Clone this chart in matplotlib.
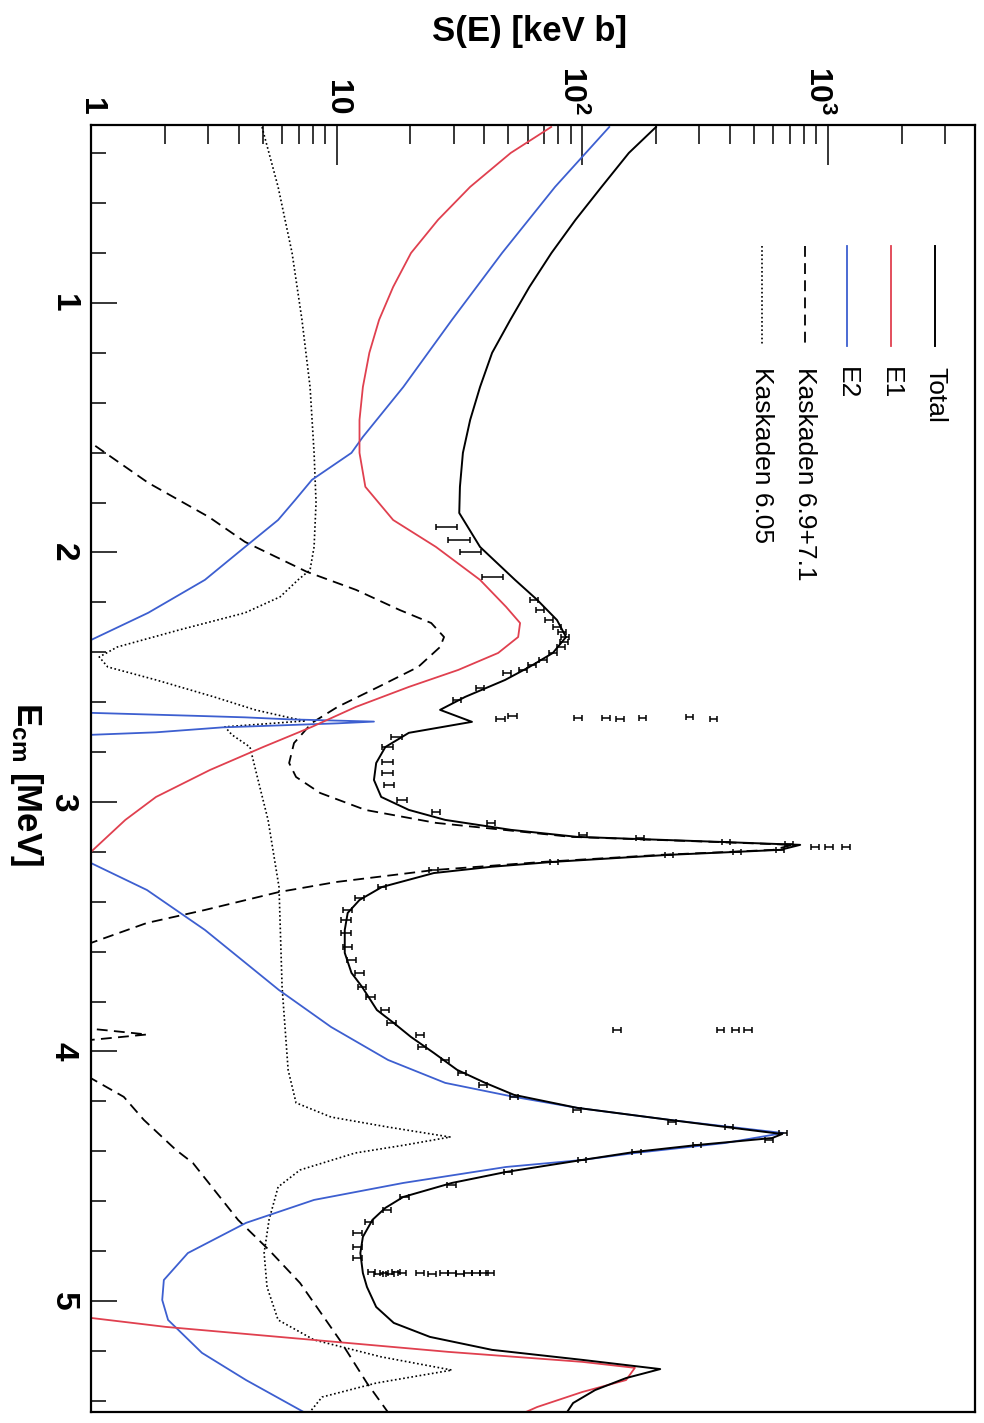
import matplotlib
matplotlib.use("Agg")
import matplotlib.pyplot as plt
from matplotlib.lines import Line2D
from matplotlib.ticker import MultipleLocator, LogLocator, NullFormatter
from matplotlib.transforms import ScaledTranslation
import numpy as np

nan = np.nan

# S-factor curves, E_cm in MeV, S in keV b
total_E = [0.295, 0.399, 0.535, 0.667, 0.800, 0.936, 1.068, 1.200, 1.337, 1.469,
           1.601, 1.737, 1.842, 1.978, 2.110, 2.190, 2.271, 2.339, 2.403, 2.459,
           2.511, 2.579, 2.631, 2.679, 2.723, 2.780, 2.844, 2.912, 2.980, 3.032,
           3.072, 3.112, 3.140, 3.160, 3.172, 3.192, 3.200, 3.212, 3.240, 3.260,
           3.285, 3.341, 3.393, 3.445, 3.513, 3.605, 3.685, 3.741, 3.834, 3.886,
           3.942, 4.006, 4.074, 4.126, 4.174, 4.226, 4.274, 4.303, 4.331, 4.347,
           4.375, 4.403, 4.435, 4.483, 4.527, 4.583, 4.627, 4.675, 4.743, 4.808,
           4.888, 4.944, 5.024, 5.088, 5.144, 5.196, 5.236, 5.273, 5.309, 5.357,
           5.409, 5.445]
total_S = [200, 155, 120, 94, 75, 61, 51, 43, 38.4, 35,
           32.7, 31.8, 31.6, 38.4, 53.3, 65.6, 79, 86, 76, 61,
           48.6, 33.4, 26.4, 35.6, 19.7, 15.8, 14.5, 14.2, 15.2, 19.7,
           27.7, 51.4, 95.4, 361, 773, 641, 428, 226, 76.9, 42.6,
           24.9, 15.3, 12.4, 11.1, 10.8, 10.8, 11.5, 12.7, 14.6, 17.1,
           20.1, 24.9, 31, 40.3, 52.8, 95.4, 226, 386, 653, 594,
           294, 163, 100, 49, 29.5, 18.7, 15.8, 14.0, 12.8, 12.5,
           12.8, 13.3, 14.5, 17.1, 24.0, 43, 100, 208, 151, 113,
           91.9, 86.9]

e1_E = [0.295, 0.399, 0.535, 0.667, 0.800, 0.936, 1.068, 1.200, 1.337, 1.469,
        1.601, 1.737, 1.870, 1.978, 2.110, 2.218, 2.283, 2.339, 2.403, 2.471,
        2.539, 2.619, 2.699, 2.780, 2.872, 2.980, 3.072, 3.200, 3.232, nan,
        5.044, 5.068, 5.104, 5.156, 5.204, 5.244, 5.268, 5.317, 5.365, 5.425,
        5.457]
e1_S = [74.8, 51.2, 35, 25.9, 20.1, 17.0, 14.9, 13.6, 12.8, 12.4,
        12.4, 13.1, 17.0, 25.4, 38.4, 49, 55.9, 54.9, 45.5, 31.3,
        19.7, 12.0, 7.94, 5.02, 3.05, 1.84, 1.38, 1.0, 0.9, nan,
        0.9, 1.0, 2.02, 8.02, 28.5, 100, 164, 151, 100, 65.6,
        55.4]

e2_E = [0.295, 0.535, 0.800, 1.068, 1.337, 1.537, 1.601, 1.709, 1.790, 1.870,
        1.978, 2.110, 2.242, 2.351, 2.371, nan,
        2.630, 2.643, 2.655, 2.661, 2.669, 2.678, 2.685, 2.695, 2.701, 2.721,
        2.731, 2.740, nan,
        3.235, 3.245, 3.353, 3.513, 3.754, 3.902, 4.034, 4.126, 4.182, 4.226,
        4.274, 4.327, 4.367, 4.407, 4.435, 4.463, 4.527, 4.595, 4.687, 4.808,
        4.916, 4.996, 5.076, 5.208, 5.317, 5.457]
e2_S = [129, 77.6, 47.2, 29.5, 18.7, 12.8, 11.5, 7.94, 6.78, 5.78,
        4.24, 2.91, 1.71, 1.0, 0.92, nan,
        0.9, 1.0, 2.68, 4.24, 6.41, 14.2, 10.1, 5.21, 3.45, 1.84,
        1.0, 0.9, nan,
        0.92, 1.0, 1.69, 2.91, 5.83, 9.5, 16.2, 27.7, 52.8, 95.4,
        226, 659, 382, 164, 100, 49, 18.7, 8.1, 4.28, 2.48,
        1.98, 1.95, 2.06, 2.83, 4.28, 7.73]

k69_E = [1.545, 1.561, 1.721, 1.858, 1.958, 2.078, 2.150, 2.231, 2.283, 2.339,
         2.379, 2.459, 2.539, 2.619, 2.683, 2.764, 2.844, 2.900, 2.964, 3.032,
         3.084, 3.112, 3.140, 3.160, 3.172, 3.192, 3.200, 3.212, 3.240, 3.273,
         3.321, 3.361, 3.433, 3.485, 3.565, 3.593, nan,
         3.905, 3.915, 3.932, 3.948, 3.958, nan,
         4.100, 4.182, 4.274, 4.395, 4.447, 4.675, 4.796, 4.928, 5.156, 5.329,
         5.457]
k69_S = [0.9, 1.0, 1.71, 3.02, 4.24, 7.58, 12.0, 18.1, 24.3, 27.4,
         26.4, 21.5, 14.8, 10.1, 7.94, 6.71, 6.41, 6.84, 8.57, 13.1,
         25.4, 48, 90, 340, 720, 600, 400, 210, 70, 24.9,
         9.95, 5.83, 2.91, 1.69, 1.0, 0.9, nan,
         0.9, 1.15, 1.69, 1.15, 0.9, nan,
         0.97, 1.36, 1.64, 2.22, 2.60, 3.97, 5.31, 7.10, 10.3, 13.3,
         16.5]

k605_E = [0.295, 0.535, 0.800, 1.068, 1.337, 1.601, 1.800, 1.978, 2.070, 2.110,
          2.178, 2.242, 2.311, 2.379, 2.419, 2.459, 2.511, 2.579, 2.631, 2.663,
          2.675, 2.699, 2.731, 2.780, 2.912, 3.072, 3.341, 3.741, 4.074, 4.206,
          4.263, 4.303, 4.343, 4.375, 4.407, 4.475, 4.543, 4.675, 4.808, 4.944,
          5.076, 5.156, 5.224, 5.277, 5.329, 5.385, 5.449]
k605_S = [4.97, 5.78, 6.59, 7.23, 7.80, 8.10, 8.25, 8.10, 7.80, 6.97,
          5.89, 4.24, 2.28, 1.28, 1.08, 1.17, 1.84, 3.17, 4.66, 6.47,
          7.5, 3.51, 3.75, 4.44, 4.79, 5.26, 5.83, 6.00, 6.35, 6.84,
          9.50, 16.2, 29.0, 19.0, 11.9, 7.10, 5.78, 5.31, 5.07, 5.21,
          5.78, 8.10, 15.2, 29.5, 14.5, 8.73, 7.73]

# measured points
pts_E = [1.898, 1.950, 1.998, 2.098, 2.190, 2.230, 2.271, 2.299, 2.319, 2.339,
         2.359, 2.379, 2.403, 2.431, 2.451, 2.471, 2.483, 2.543, 2.591, 2.739,
         2.780, 2.840, 2.884, 2.932, 2.992, 3.040, 3.084, 3.132, 3.144, 3.160,
         3.168, 3.180, 3.180, 3.180, 3.192, 3.200, 3.212, 3.240, 3.273, 3.341,
         3.385, 3.433, 3.473, 3.525, 3.581, 3.633, 3.685, 3.741, 3.782, 3.834,
         3.886, 3.934, 3.982, 4.034, 4.086, 4.134, 4.182, 4.234, 4.283, 4.303,
         4.327, 4.355, 4.375, 4.403, 4.435, 4.483, 4.535, 4.583, 4.635, 4.683,
         4.727, 4.784, 4.828]
pts_S = [28.2, 31.6, 35.3, 43.4, 63.7, 67.4, 73.4, 79.1, 82.9, 85.3,
         84.4, 82.1, 76.2, 69.4, 62.5, 57.5, 49.5, 38.4, 31.0, 17.5,
         16.1, 16.1, 16.1, 16.4, 18.5, 25.4, 42.6, 101, 172, 386,
         697, 889, 1014, 1189, 641, 428, 226, 76.9, 24.9, 15.3,
         12.4, 11.1, 10.9, 10.9, 11.1, 11.5, 12.4, 12.7, 13.8, 15.8,
         16.7, 21.9, 22.3, 27.7, 32.4, 39.5, 52.8, 95.4, 233, 397,
         659, 578, 294, 166, 100, 50, 29.5, 19.0, 16.1, 13.6,
         12.2, 12.2, 12.2]
pts_err = [2.8, 3.2, 3.5, 4.3, 2.5, 2.7, 2.9, 3.2, 3.3, 3.4,
           3.4, 3.3, 3.0, 2.8, 2.5, 2.3, 2.0, 1.5, 1.2, 0.9,
           0.8, 0.8, 0.8, 0.8, 0.8, 1.0, 1.7, 4, 7, 15,
           28, 30, 35, 40, 25, 17, 9, 3, 1.0, 0.6,
           0.5, 0.5, 0.5, 0.5, 0.5, 0.5, 0.5, 0.5, 0.6, 0.6,
           0.7, 0.9, 0.9, 1.1, 1.3, 1.6, 2.1, 3.8, 9, 16,
           26, 23, 12, 7, 4, 2, 1.2, 0.8, 0.6, 0.5,
           0.5, 0.5, 0.5]

# points scattered across the narrow resonances
res_E = [2.668, 2.655, 2.665, 2.662, 2.667, 2.664, 2.660, 2.666,
         3.914, 3.914, 3.914, 3.914,
         4.884, 4.890, 4.886, 4.892, 4.885, 4.889, 4.887, 4.891, 4.886,
         4.888, 4.890, 4.887, 4.889, 4.886, 4.888]
res_S = [46.4, 51.9, 96.3, 125, 143, 176, 275, 342,
         139, 365, 420, 474,
         13.9, 14.8, 15.6, 16.5, 17.5, 18.5, 21.9, 24.5, 27.4,
         29.5, 31.8, 34.3, 37.0, 39.9, 42.2]
res_err = [2.0, 2.2, 3.5, 4.5, 5, 6, 9, 11,
           5, 12, 14, 16,
           0.5, 0.6, 0.6, 0.6, 0.7, 0.7, 0.8, 0.9, 1.0,
           1.1, 1.2, 1.2, 1.3, 1.4, 1.5]

legend_labels = ['Total', 'E1', 'E2', 'Kaskaden 6.9+7.1', 'Kaskaden 6.05']

plt.rcParams['font.family'] = 'Liberation Sans'
plt.rcParams['mathtext.fontset'] = 'custom'
plt.rcParams['mathtext.rm'] = 'Liberation Sans'
plt.rcParams['mathtext.it'] = 'Liberation Sans:italic'
plt.rcParams['mathtext.bf'] = 'Liberation Sans:bold'

W, H = 984, 1423
fig = plt.figure(figsize=(W / 100, H / 100), dpi=100)
ax = fig.add_axes([91 / W, 1 - 1412 / H, 884 / W, 1287 / H])

red = '#e0404f'
blue = '#3d5fd0'
dash = (0, (6, 3.5))
dot = (0, (1, 1.5))
styles = [dict(color='black', lw=1.4, ls='-'),
          dict(color=red, lw=1.3, ls='-'),
          dict(color=blue, lw=1.3, ls='-'),
          dict(color='black', lw=1.3, ls=dash),
          dict(color='black', lw=1.2, ls=dot)]

ax.plot(k605_S, k605_E, **styles[4])
ax.plot(k69_S, k69_E, **styles[3])
ax.plot(e2_S, e2_E, **styles[2])
ax.plot(e1_S, e1_E, **styles[1])
ax.plot(total_S, total_E, **styles[0])
ax.errorbar(pts_S, pts_E, xerr=pts_err, fmt='none', ecolor='black',
            elinewidth=1.1, capsize=2.5, capthick=1.1)
ax.errorbar(res_S, res_E, xerr=res_err, fmt='none', ecolor='black',
            elinewidth=1.1, capsize=2.5, capthick=1.1)

ax.set_xscale('log')
ax.set_xlim(1, 10 ** 3.6)
ax.set_ylim(5.445, 0.287)

# S axis on top, E axis on the left, everything turned a quarter clockwise
ax.xaxis.tick_top()
ax.set_xticks([1, 10, 100, 1000])
ax.set_xticklabels(['1', '10', r'$\mathbf{10^{2}}$', r'$\mathbf{10^{3}}$'],
                   rotation=-90, fontsize=23, fontweight='bold')
ax.xaxis.set_minor_locator(LogLocator(base=10, subs=np.arange(2, 10), numticks=20))
ax.xaxis.set_minor_formatter(NullFormatter())
ax.tick_params(axis='x', which='major', direction='in', length=29, width=1.1,
               pad=7, top=True, bottom=False)
ax.tick_params(axis='x', which='minor', direction='in', length=14, width=1.1,
               top=True, bottom=False)

ax.set_yticks([1, 2, 3, 4, 5])
ax.set_yticklabels(['1', '2', '3', '4', '5'], rotation=-90, fontsize=24,
                   fontweight='bold', va='center')
ax.yaxis.set_minor_locator(MultipleLocator(0.2))
ax.tick_params(axis='y', which='major', direction='in', length=19, width=1.1,
               pad=9, left=True, right=False)
ax.tick_params(axis='y', which='minor', direction='in', length=11, width=1.1,
               left=True, right=False)

# keep the powers of ten centred on their mantissa rather than the whole label
for lbl in ax.get_xticklabels()[2:]:
    lbl.set_transform(lbl.get_transform() + ScaledTranslation(-0.1, 0, fig.dpi_scale_trans))

for sp in ax.spines.values():
    sp.set_linewidth(1.6)

fig.text(530 / W, 1 - 32 / H, 'S(E) [keV b]', ha='center', va='center',
         fontsize=25, fontweight='bold')
fig.text(26 / W, 1 - 784 / H, r'$\mathbf{E_{cm}}$ [MeV]', ha='center', va='center',
         rotation=-90, fontsize=25, fontweight='bold')

# legend, drawn sideways like the rest
leg_x = [935, 891, 847, 805, 762]
for xc, lab, st in zip(leg_x, legend_labels, styles):
    fig.add_artist(Line2D([xc / W, xc / W], [1 - 246 / H, 1 - 346 / H],
                          transform=fig.transFigure, **st))
    fig.text(xc / W, 1 - 367 / H, lab, ha='center', va='top', rotation=-90,
             fontsize=19)

fig.savefig('out.png', dpi=100)
